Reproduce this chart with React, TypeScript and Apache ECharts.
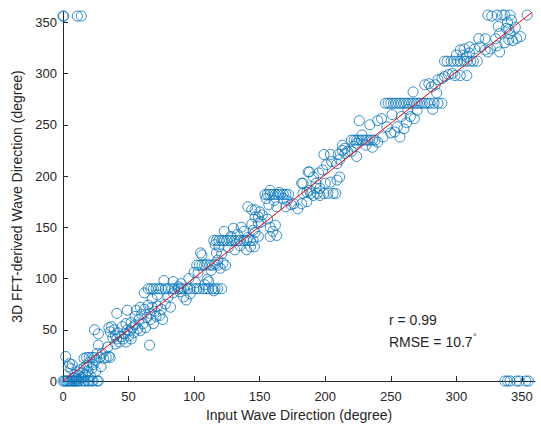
import React, { useEffect, useRef } from "react";
import * as echarts from "echarts";

// ---- data (degrees) ----
const tickValues = [0, 50, 100, 150, 200, 250, 300, 350];

const zeroRowLow = [[0,0],[1,0],[2,0],[3,0],[4,0],[5,0],[6,0],[7,0],[8,0],[9,0],[10,0],[11,0],[12,0],[14,0],[16,0],[17,0],[19,0],[20,0],[22,0],[23,0],[26,0],[27,0]];
const wrapTopLeft = [[0,356],[0.5,356],[11,356],[14,356]];
const wrapBottomRight = [[337,0],[339,0],[341,0],[346,0],[348,0],[353,0],[355,0]];

const lowScatter = [[2,24],[4,14],[5,17],[6,12],[7,16],[8,3],[9,6],[10,2],[11,9],[12,5],[13,11],[14,3],[15,8],[16,13],[16,22],[17,6],[18,23],[18,15],[19,10],[20,23],[20,18],[21,5],[22,12],[22,23],[23,16],[24,50],[24,23],[25,9],[25,20],[26,27],[27,46],[27,35],[28,23],[29,14],[30,27],[31,22],[33,23],[34,33],[35,24],[35,52],[36,48],[36,23],[37,53],[38,42],[39,50],[40,36],[40,44],[41,66],[41,41],[42,47],[43,38],[44,43],[45,53],[46,41],[47,46],[48,56],[48,38],[49,69],[49,50],[50,44],[51,49],[52,57],[52,41],[53,52],[54,47],[55,63],[55,55],[56,69],[57,51],[58,60],[59,49],[59,72],[60,65],[61,56],[62,70],[63,52],[64,62],[65,74],[66,35],[66,66],[67,60],[68,72],[69,56],[70,68],[71,63],[72,73],[74,64],[75,70],[76,60]];

const row90 = [[65,90],[67,90],[69,90],[71,90],[73,90],[75,90],[78,90],[80,90],[83,90],[85,90],[88,90],[90,90],[92,90],[95,90],[97,90],[100,90],[102,90],[104,90],[107,90],[109,90],[111,90],[114,90],[116,90],[118,90],[121,90]];
const midScatter1 = [[62,86],[68,80],[72,84],[77,98],[80,82],[84,97],[84,86],[89,87],[92,82],[94,79],[97,85],[100,106],[101,96],[103,106],[105,125],[106,123],[108,94],[110,99],[111,97],[113,108],[115,88],[116,133],[117,125],[118,118],[119,131],[120,110],[122,115],[124,113],[78,75],[82,72],[88,92],[96,100],[90,95]];
const row113 = [[102,113],[104,113],[106,113],[108,113],[110,114],[112,113],[114,113],[116,114],[118,113]];
const row135 = [[115,137],[117,137],[119,137],[121,137],[123,137],[125,137],[127,137],[129,137],[131,137],[133,137],[135,137],[138,137],[140,137],[143,137],[145,137]];
const midScatter2 = [[121,124],[123,146],[126,130],[128,141],[130,149],[131,128],[133,143],[135,132],[136,150],[138,146],[140,128],[141,140],[143,131],[144,153],[145,147],[146,131],[146.5,160],[146.5,145],[146.5,167],[149,154],[149,141],[150,165],[151,155],[152,162],[141,170],[144,167],[149,160],[158,150],[158,141],[160,146],[162,152],[163,142],[156,158]];
const row180 = [[154,182],[156,182],[158,182],[160,182],[162,182],[164,182],[166,182],[168,182],[170,182],[172,182],[183,183],[186,184],[189,183],[191,181],[194,183],[196,181],[199,183],[202,183],[206,183],[208,183]];
const midScatter3 = [[155,178],[158,186],[161,176],[165,184],[168,178],[171,176],[157,172],[163,170],[170,170],[176,173],[179,168],[174,172],[182,173],[186,175],[188,186],[193,188],[196,188],[182,193],[183,193],[187,204],[188,204],[191,199],[193,193],[195,203],[198,206],[200,193],[201,211],[204,194],[205,214],[209,212],[209,196],[211,199],[211,216],[213,225],[215,222],[199,221],[204,221],[210,221],[215,227],[213,230]];
const row235 = [[220,235],[222,235],[224,235],[226,235],[228,235],[230,235],[232,235],[234,235],[236,235],[238,235]];
const highScatter1 = [[217,224],[220,224],[224,219],[224,232],[222,229],[226,254],[228,240],[231,230],[234,250],[236,228],[240,254],[240,233],[243,256],[244,238],[247,248],[250,242],[251,260],[253,243],[255,248],[257,238],[258,258],[260,246],[262,252],[265,258]];
const row270 = [[246,271],[248,271],[250,271],[252,271],[254,271],[256,271],[258,271],[260,271],[262,271],[264,271],[266,271],[268,271],[270,271],[272,271],[274,271],[276,271],[278,271],[280,271],[283,271],[286,271],[289,271]];
const highScatter2 = [[268,256],[270,264],[267,282],[276,289],[279,290],[281,287],[284,289],[286,294],[289,295],[291,297],[294,299],[297,300],[299,298],[303,298],[308,298],[285,281],[282,265],[263,265]];
const row312 = [[291,312],[293,312],[296,312],[298,312],[301,312],[303,312],[306,312],[308,312],[311,312],[313,312],[316,312]];
const highScatter3 = [[303,323],[306,324],[310,326],[314,324],[318,326],[322,323],[324,321],[326,324],[331,327],[333,321],[310,320],[305,318],[308,316],[300,318],[317,334],[322,334],[330,334],[333,339],[337,330],[340,333],[343,332],[346,334],[349,336],[341,339],[338,344],[340,343],[345,345],[332,346],[339,350]];
const row357 = [[324,357],[327,356],[331,357],[335,357],[337,357],[341,357],[342,352],[354,357]];

const fitLine = [[0, 0], [358, 360]];

const allPoints = [
  ...zeroRowLow, ...wrapTopLeft, ...wrapBottomRight, ...lowScatter,
  ...row90, ...midScatter1, ...row113, ...row135, ...midScatter2,
  ...row180, ...midScatter3, ...row235, ...highScatter1, ...row270,
  ...highScatter2, ...row312, ...highScatter3, ...row357,
];

const FONT = "'Liberation Sans', Arial, Helvetica, sans-serif";
const TXT = "#262626";

export default function App() {
  const ref = useRef<HTMLDivElement>(null);
  useEffect(() => {
    document.body.style.margin = "0";
    const chart = echarts.init(ref.current!, null, { renderer: "svg" });
    const axisCommon = {
      type: "value" as const,
      min: 0,
      max: 360,
      interval: 50,
      nameLocation: "middle" as const,
      nameTextStyle: { color: TXT, fontSize: 14, fontFamily: FONT },
      axisLine: { show: true, lineStyle: { color: TXT, width: 1 } },
      axisTick: { show: true, inside: true, length: 5, lineStyle: { color: TXT }, customValues: tickValues },
      axisLabel: { color: TXT, fontSize: 13, fontFamily: FONT, customValues: tickValues },
      splitLine: { show: false },
    };
    chart.setOption({
      animation: false,
      backgroundColor: "#ffffff",
      grid: { left: 63, right: 6, top: 12, bottom: 53 },
      xAxis: {
        ...axisCommon,
        name: "Input Wave Direction (degree)",
        nameGap: 26,
        axisLabel: { ...axisCommon.axisLabel, margin: 9 },
      },
      yAxis: {
        ...axisCommon,
        name: "3D FFT-derived Wave Direction (degree)",
        nameGap: 38,
        axisLabel: { ...axisCommon.axisLabel, margin: 6 },
      },
      series: [
        {
          type: "scatter",
          data: allPoints,
          symbol: "circle",
          symbolSize: 10,
          itemStyle: { color: "rgba(0,0,0,0)", borderColor: "#0072BD", borderWidth: 1 },
          emphasis: { disabled: true },
        },
        {
          type: "line",
          data: fitLine,
          symbol: "none",
          lineStyle: { color: "#FF0000", width: 1 },
          emphasis: { disabled: true },
        },
      ],
      graphic: [
        { type: "text", left: 389, top: 313, style: { text: "r = 0.99", fill: TXT, font: `14px ${FONT}` } },
        { type: "text", left: 389, top: 335, style: { text: "RMSE = 10.7", fill: TXT, font: `14px ${FONT}` } },
        { type: "text", left: 473, top: 332, style: { text: "°", fill: TXT, font: `9px ${FONT}` } },
      ],
    });
    return () => chart.dispose();
  }, []);
  return <div ref={ref} style={{ width: 541, height: 434 }} />;
}
